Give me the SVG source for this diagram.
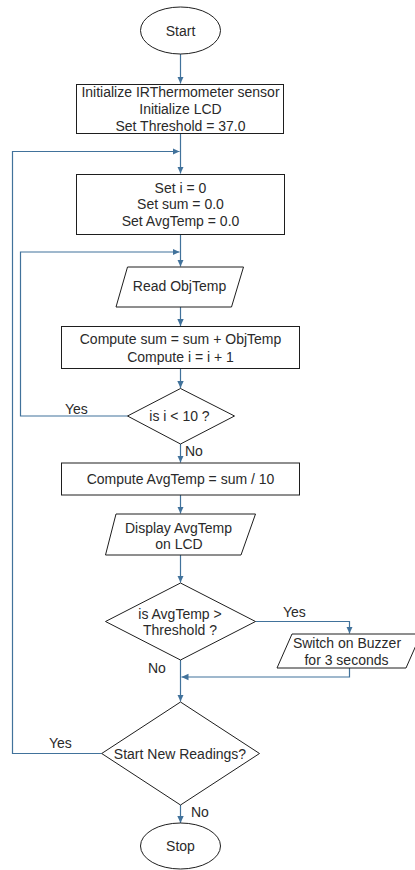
<svg xmlns="http://www.w3.org/2000/svg" width="415" height="870" viewBox="0 0 415 870">
<style>
.shape{fill:#fff;stroke:#1e1e1e;stroke-width:1}
.t{font-family:"Liberation Sans",Arial,sans-serif;font-size:14px;fill:#2a2a2a;text-anchor:middle}
.lbl{font-family:"Liberation Sans",Arial,sans-serif;font-size:14px;fill:#2a2a2a}
.c{fill:none;stroke:#41729b;stroke-width:1.2}
</style>
<defs>
<marker id="ah" markerWidth="8" markerHeight="8" refX="7" refY="4" orient="auto" markerUnits="userSpaceOnUse">
<path d="M0,0.8 L7,4 L0,7.2 Z" fill="#41729b"/>
</marker>
</defs>
<rect width="415" height="870" fill="#fff"/>
<g id="connectors">
<path class="c" d="M180.5,54 V83.5" marker-end="url(#ah)"/>
<path class="c" d="M180.5,134 V173.5" marker-end="url(#ah)"/>
<path class="c" d="M101.7,753.5 H12.5 V151.5 H179.5" marker-end="url(#ah)"/>
<path class="c" d="M180.5,235 V266.5" marker-end="url(#ah)"/>
<path class="c" d="M127.7,416 H20.5 V252 H179.5" marker-end="url(#ah)"/>
<path class="c" d="M180.5,307 V326" marker-end="url(#ah)"/>
<path class="c" d="M180.5,368.5 V388" marker-end="url(#ah)"/>
<path class="c" d="M180.5,444 V462.5" marker-end="url(#ah)"/>
<path class="c" d="M180.5,495 V513.5" marker-end="url(#ah)"/>
<path class="c" d="M180.5,555 V582.5" marker-end="url(#ah)"/>
<path class="c" d="M255.5,621.5 H349.5 V633.5" marker-end="url(#ah)"/>
<path class="c" d="M180.5,660 V701.5" marker-end="url(#ah)"/>
<path class="c" d="M349.5,668 V677 H181.5" marker-end="url(#ah)"/>
<path class="c" d="M180.5,805 V823" marker-end="url(#ah)"/>
</g>
<g id="start">
<ellipse class="shape" cx="180.5" cy="30.5" rx="40" ry="23.5"/>
<text class="t" x="180.5" y="35.5">Start</text>
</g>
<g id="init">
<rect class="shape" x="76.5" y="84.5" width="207" height="49"/>
<text class="t" x="180.5" y="97">Initialize IRThermometer sensor</text>
<text class="t" x="180.5" y="114">Initialize LCD</text>
<text class="t" x="180.5" y="131">Set Threshold = 37.0</text>
</g>
<g id="setvars">
<rect class="shape" x="76.5" y="174.5" width="208" height="60"/>
<text class="t" x="180.5" y="192.5">Set i = 0</text>
<text class="t" x="180.5" y="209">Set sum = 0.0</text>
<text class="t" x="180.5" y="225.5">Set AvgTemp = 0.0</text>
</g>
<g id="read">
<polygon class="shape" points="127.5,267 243.5,267 231.5,307 116,307"/>
<text class="t" x="179.5" y="290.5">Read ObjTemp</text>
</g>
<g id="compute">
<rect class="shape" x="61.5" y="326.5" width="238" height="42"/>
<text class="t" x="180.5" y="344">Compute sum = sum + ObjTemp</text>
<text class="t" x="180.5" y="361.5">Compute i = i + 1</text>
</g>
<g id="cond1">
<polygon class="shape" points="180.5,388.5 234.5,416 180.5,444 127.5,416"/>
<text class="t" x="179.5" y="421">is i &lt; 10 ?</text>
</g>
<g id="avg">
<rect class="shape" x="61.5" y="463" width="238" height="32"/>
<text class="t" x="180.5" y="483.5">Compute AvgTemp = sum / 10</text>
</g>
<g id="display">
<polygon class="shape" points="116,514 255.5,514 241,555 105.5,555"/>
<text class="t" x="178.5" y="532.5">Display AvgTemp</text>
<text class="t" x="179" y="548.5">on LCD</text>
</g>
<g id="cond2">
<polygon class="shape" points="180.5,583 255.5,621.5 180.5,660 105.5,621.5"/>
<text class="t" x="180" y="618.5">is AvgTemp &gt;</text>
<text class="t" x="180" y="635">Threshold ?</text>
</g>
<g id="buzzer">
<polygon class="shape" points="292,634 421,634 406,668 277,668"/>
<text class="t" x="347" y="647.5">Switch on Buzzer</text>
<text class="t" x="346.5" y="665">for 3 seconds</text>
</g>
<g id="cond3">
<polygon class="shape" points="180.5,702 259.5,753.5 180.5,805 101.7,753.5"/>
<text class="t" x="180" y="758.5">Start New Readings?</text>
</g>
<g id="stop">
<ellipse class="shape" cx="180.5" cy="846" rx="40" ry="23"/>
<text class="t" x="180.5" y="851">Stop</text>
</g>
<g id="labels">
<text class="lbl" x="65" y="414">Yes</text>
<text class="lbl" x="185" y="456">No</text>
<text class="lbl" x="283" y="617">Yes</text>
<text class="lbl" x="148" y="673">No</text>
<text class="lbl" x="49" y="748">Yes</text>
<text class="lbl" x="191" y="817">No</text>
</g>
</svg>
